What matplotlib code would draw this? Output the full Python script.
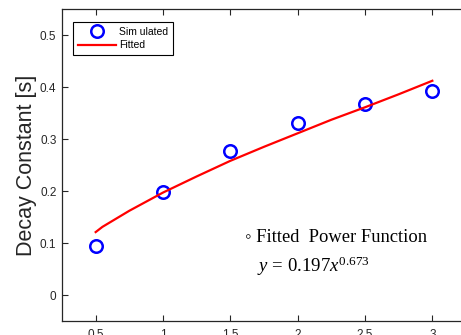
import numpy as np
import matplotlib
matplotlib.use('Agg')
from matplotlib import pyplot as plt

# data
sim_x = [0.5, 1.0, 1.5, 2.0, 2.5, 3.0]
sim_y = [0.095, 0.199, 0.277, 0.331, 0.367, 0.393]

fit_x = [0.5, 0.55, 0.75, 1.0, 1.25, 1.5, 1.75, 2.0, 2.25, 2.5, 2.75, 3.0]
fit_y = [0.121, 0.131, 0.162, 0.197, 0.228, 0.258, 0.285, 0.311, 0.337, 0.361, 0.386, 0.412]

xticks = [0.5, 1, 1.5, 2, 2.5, 3]
xticklabels = ['0.5', '1', '1.5', '2', '2.5', '3']
yticks = [0, 0.1, 0.2, 0.3, 0.4, 0.5]
yticklabels = ['0', '0.1', '0.2', '0.3', '0.4', '0.5']

plt.rcParams['font.family'] = ['Liberation Sans', 'DejaVu Sans']
plt.rcParams['mathtext.fontset'] = 'custom'
plt.rcParams['mathtext.rm'] = 'Liberation Serif'
plt.rcParams['mathtext.it'] = 'Liberation Serif:italic'

fig = plt.figure(figsize=(4.61, 3.35), dpi=100)
ax = fig.add_axes([62 / 461, 14 / 335, 404 / 461, 312 / 335])

gray = '#262626'
ax.plot(sim_x, sim_y, 'o', ms=9, mfc='none', mec='#0000ff', mew=1.8, label='Sim ulated')
ax.plot(fit_x, fit_y, '-', color='#ff0000', lw=1.6, label='Fitted')

ax.set_xlim(0.25, 3.25)
ax.set_ylim(-0.05, 0.55)
ax.set_xticks(xticks)
ax.set_xticklabels(xticklabels)
ax.set_yticks(yticks)
ax.set_yticklabels(yticklabels)
ax.tick_params(direction='in', top=True, right=False, length=4, width=0.8,
               colors=gray, labelsize=8.5, labelcolor=gray)
ax.tick_params(axis='x', pad=6)
ax.tick_params(axis='y', pad=4)
for s in ax.spines.values():
    s.set_color(gray)
    s.set_linewidth(0.9)

ax.set_ylabel('Decay Constant [s]', fontsize=15.5, color=gray, labelpad=2)

leg = ax.legend(loc='upper left', bbox_to_anchor=(0.027, 0.958), fontsize=7.5,
                frameon=True, fancybox=False, edgecolor='black', framealpha=1,
                handlelength=3.7, borderpad=0.45, labelspacing=0.35, handletextpad=0.3,
                borderaxespad=0)
leg.get_frame().set_linewidth(0.8)

ax.text(245 / 461, 1 - 242 / 335, '\u25e6 Fitted  Power Function', transform=fig.transFigure,
        fontsize=13.3, family='Liberation Serif', color='black', va='baseline')
ax.text(257 / 461, 1 - 272 / 335, r'$y\,=\,0.197x^{0.673}$', transform=fig.transFigure,
        fontsize=13.5, color='black', va='baseline')

fig.savefig('out.png', dpi=100)
